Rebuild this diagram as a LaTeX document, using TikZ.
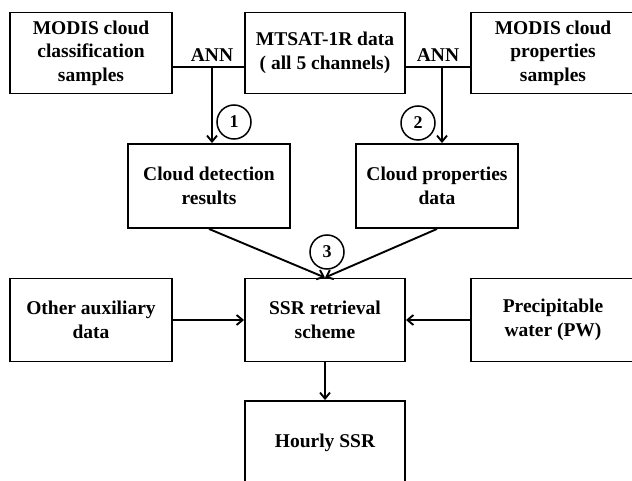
\documentclass[tikz,border=0pt]{standalone}
\usepackage{fontspec}
\setmainfont{Liberation Serif}
\usetikzlibrary{arrows.meta}
\begin{document}
\begin{tikzpicture}[x=1pt,y=-1pt,
  box/.style={draw, line width=1.9pt, minimum width=#1, minimum height=81pt, inner sep=0pt, align=center, font=\bfseries\fontsize{19.5}{23.5}\selectfont},
  lbl/.style={inner sep=0pt, font=\bfseries\fontsize{19.5}{23.5}\selectfont},
  num/.style={draw, circle, line width=1.5pt, minimum size=34pt, inner sep=0pt, font=\bfseries\fontsize{18}{18}\selectfont},
  conn/.style={line width=1.9pt},
  arr/.style={line width=1.9pt, -{Straight Barb[length=6pt,width=10pt]}}
]
\useasboundingbox (0,0) rectangle (632,481);

\node[box=162pt] (A) at (91,53) {MODIS cloud\\classification\\samples};
\node[box=160pt] (B) at (325,53) {MTSAT-1R data\\( all 5 channels)};
\node[box=164pt] (C) at (553,53) {MODIS cloud\\properties\\samples};

\node[box=162pt, minimum height=84pt] (D) at (209,186) {Cloud detection\\results};
\node[box=162pt, minimum height=84pt] (E) at (437,186) {Cloud properties\\data};

\node[box=162pt, minimum height=83pt] (H) at (91,320) {Other auxiliary\\data};
\node[box=160pt, minimum height=83pt] (F) at (325,320) {SSR retrieval\\scheme};
\node[box=164pt, minimum height=83pt] (I) at (553,320) {Precipitable\\water (PW)};

\node[box=160pt, minimum height=84pt] (G) at (325,443) {Hourly SSR};

\node[lbl] (ann1) at (212,55) {ANN};
\node[lbl] (ann2) at (438,55) {ANN};

\coordinate (j1) at (212,67);
\coordinate (j2) at (442,67);

\draw[conn] (A.east |- j1) -- (B.west |- j1);
\draw[conn] (B.east |- j2) -- (C.west |- j2);
\draw[arr] (j1) -- (j1 |- D.north);
\draw[arr] (j2) -- (j2 |- E.north);

\node[num] (c1) at (234,122) {1};
\node[num] (c2) at (418,123) {2};
\node[num] (c3) at (327,252) {3};

\draw[arr] (D.south) -- (F.north);
\draw[arr] (E.south) -- (F.north);
\draw[arr] (H) -- (F);
\draw[arr] (I) -- (F);
\draw[arr] (F) -- (G);
\end{tikzpicture}
\end{document}
